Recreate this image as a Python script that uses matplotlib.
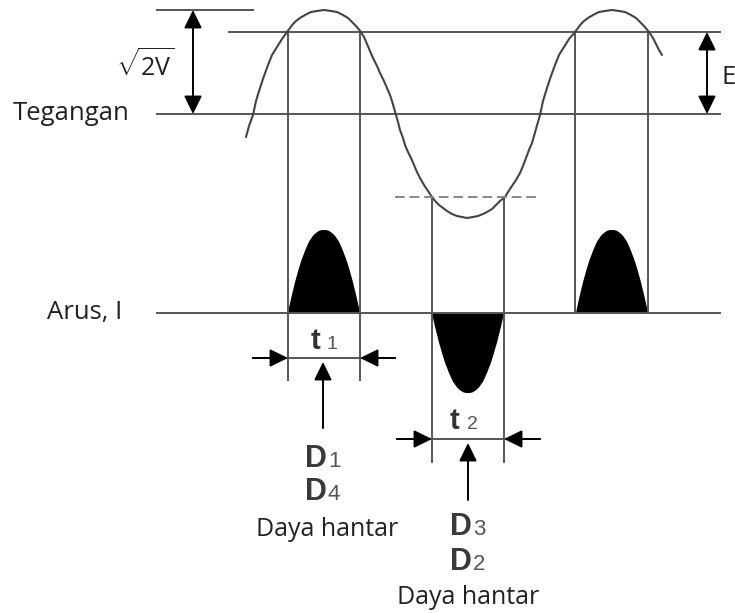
import matplotlib
matplotlib.use("Agg")
import matplotlib.pyplot as plt

plt.rcParams['font.family'] = ['Open Sans', 'DejaVu Sans']
plt.rcParams['mathtext.fontset'] = 'custom'
plt.rcParams['mathtext.rm'] = 'Open Sans'

# tegangan (voltage wave), pixel coords
wave_x = [246, 249, 253, 256, 260, 264, 268, 272, 277, 282, 287, 290, 293, 296, 300, 305, 311, 317, 324,
          331, 337, 343, 348, 352, 356, 361, 364, 367, 370, 373, 377, 380, 384, 387, 390, 392, 394, 396,
          398, 400, 403, 405, 408, 411, 414, 417, 420, 424, 428,
          432, 436, 439, 443, 447, 452, 457, 462, 467, 473, 478, 483, 487, 492, 496, 500, 505, 508, 512,
          516, 520, 523, 526, 529, 532, 534, 536, 538, 540, 543, 547, 551, 555, 559, 564, 569, 575, 578,
          581, 584, 588, 593, 599, 605, 612, 619,
          625, 631, 636, 640, 644, 649, 653, 656, 659, 662]
wave_y = [137, 126, 115, 101, 88, 76, 65, 55, 47, 39, 32, 28, 24, 21, 18, 15, 12, 11, 10,
          11, 12, 15, 18, 22, 26, 32, 37, 44, 51, 58, 66, 73, 81, 88, 95, 101, 108, 115,
          122, 130, 138, 145, 152, 158, 165, 172, 178, 185, 191,
          197, 202, 205, 208, 211, 214, 216, 217, 218, 217, 216, 214, 212, 209, 205, 201, 197, 192, 186,
          180, 173, 166, 158, 150, 143, 136, 129, 122, 115, 101, 88, 76, 65, 55, 47, 39, 32, 28,
          24, 21, 18, 15, 12, 11, 10, 11,
          12, 15, 18, 22, 26, 32, 38, 44, 50, 55]

# horizontal reference lines
hline_y = [10, 32, 114, 313]
hline_x0 = [157, 229, 157, 157]
hline_x1 = [253, 720, 720, 720]

# vertical lines
vline_x = [288, 360, 432, 504, 575, 648]
vline_y0 = [32, 32, 197, 197, 32, 32]
vline_y1 = [380, 380, 462, 462, 313, 313]

# arus (current) pulses: profile
lobe_dx = [-36, -35, -33, -31, -29, -26, -23, -19, -15, -11, -8, -5, -2, 0,
           2, 5, 8, 11, 15, 19, 23, 26, 29, 31, 33, 35, 36]
lobe_frac = [0, 0.06, 0.17, 0.27, 0.37, 0.5, 0.62, 0.75, 0.86, 0.93, 0.965, 0.99, 1.0, 1.0,
             1.0, 0.99, 0.965, 0.93, 0.86, 0.75, 0.62, 0.5, 0.37, 0.27, 0.17, 0.06, 0]
lobe_cx = [324, 468, 612]
lobe_h = [83, -80, 83]
base_y = 313
dash_y = 197

LC = '#555555'
TC = '#222222'
SC = '#555555'

fig = plt.figure(figsize=(7.35, 6.13), dpi=100)
ax = fig.add_axes([0, 0, 1, 1])
ax.set_xlim(0, 735)
ax.set_ylim(613, 0)
ax.axis('off')

for y, x0, x1 in zip(hline_y, hline_x0, hline_x1):
    ax.plot([x0, x1], [y, y], color=LC, lw=1.4)
for x, y0, y1 in zip(vline_x, vline_y0, vline_y1):
    ax.plot([x, x], [y0, y1], color=LC, lw=1.4)

ax.plot(wave_x, wave_y, color='#444444', lw=1.5, solid_joinstyle='round', solid_capstyle='round')
ax.plot([395, 540], [dash_y, dash_y], color='#888888', lw=1.4, dashes=(5, 2.5))

for cx, h in zip(lobe_cx, lobe_h):
    xs = [cx + d for d in lobe_dx]
    ys = [base_y - h * f for f in lobe_frac]
    ax.fill(xs, ys, color='black', lw=0)

arrow2 = dict(arrowstyle='<|-|>,head_length=0.55,head_width=0.27', mutation_scale=20,
              color='black', lw=1.4, shrinkA=0, shrinkB=0)
arrow1 = dict(arrowstyle='-|>,head_length=0.55,head_width=0.27', mutation_scale=20,
              color='black', lw=1.4, shrinkA=0, shrinkB=0)

ax.annotate('', xy=(193, 10), xytext=(193, 114), arrowprops=arrow2)
ax.annotate('', xy=(707, 32), xytext=(707, 114), arrowprops=arrow2)

# t1 / t2 dimensions
ax.plot([253, 395], [358, 358], color=LC, lw=1.4)
ax.annotate('', xy=(288, 358), xytext=(253, 358), arrowprops=arrow1)
ax.annotate('', xy=(360, 358), xytext=(395, 358), arrowprops=arrow1)
ax.annotate('', xy=(323, 362), xytext=(323, 428), arrowprops=arrow1)

ax.plot([397, 540], [439, 439], color=LC, lw=1.4)
ax.annotate('', xy=(432, 439), xytext=(397, 439), arrowprops=arrow1)
ax.annotate('', xy=(504, 439), xytext=(540, 439), arrowprops=arrow1)
ax.annotate('', xy=(468, 443), xytext=(468, 500), arrowprops=arrow1)

# labels
ax.text(13, 113, 'Tegangan', fontsize=18.5, color=TC, va='center', ha='left')
ax.text(47, 313, 'Arus, I', fontsize=18.5, color=TC, va='center', ha='left')
ax.text(145, 66, r'$\sqrt{\mathrm{2V}}$', fontsize=18, color=TC, va='center', ha='center')
ax.text(722, 78, 'E', fontsize=18.5, color=TC, va='center', ha='left')

arial = ['Liberation Sans', 'DejaVu Sans']
ax.text(311, 349, 't', fontsize=21, color='#333333', family=arial, weight='bold', ha='left', va='baseline')
ax.text(327, 349, '1', fontsize=14, color=SC, family=arial, ha='left', va='baseline')
ax.text(450, 429, 't', fontsize=21, color='#333333', family=arial, weight='bold', ha='left', va='baseline')
ax.text(467, 429, '2', fontsize=14, color=SC, family=arial, ha='left', va='baseline')

subs = [('1', 305, 467), ('4', 305, 500), ('3', 450, 535), ('2', 450, 570)]
for s, x, y in subs:
    ax.text(x, y, 'D', fontsize=22, color='#3a3a3a', family=arial, weight='bold', ha='left', va='baseline')
    ax.text(x + 23, y, s, fontsize=16, color=SC, family=arial, ha='left', va='baseline')

ax.text(327, 530, 'Daya hantar', fontsize=18, color=TC, va='center', ha='center')
ax.text(468, 598, 'Daya hantar', fontsize=18, color=TC, va='center', ha='center')

fig.savefig('out.png', dpi=100)
